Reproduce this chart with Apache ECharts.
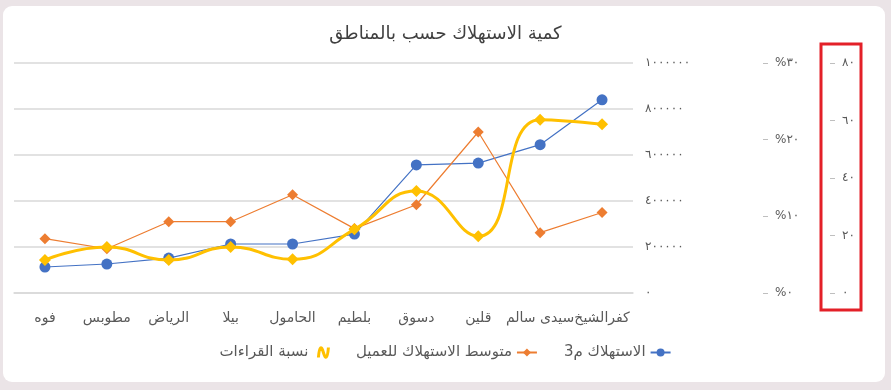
<!DOCTYPE html>
<html>
<head>
<meta charset="utf-8">
<script src="https://cdn.jsdelivr.net/npm/echarts@6/dist/echarts.min.js"></script>
<style>
html,body{margin:0;padding:0;background:#ebe4e7;width:891px;height:390px;overflow:hidden;}
#card{position:absolute;left:3px;top:6px;width:882px;height:376px;background:#fff;border-radius:9px;}
#chart{position:absolute;left:0;top:0;width:891px;height:390px;}
</style>
</head>
<body>
<div id="card"></div>
<div id="chart"></div>
<script>
// Categories, right to left in the picture
const categories = ['كفرالشيخ','سيدى سالم','قلين','دسوق','بلطيم','الحامول','بيلا','الرياض','مطوبس','فوه'];
const consumption = [840000, 645000, 565000, 557000, 256000, 213000, 213000, 152000, 126000, 113000];
const avgPerCustomer = [28, 21, 56, 30.7, 22.4, 34.2, 24.8, 24.8, 15.4, 18.9];
const readingsPct = [22.0, 22.6, 7.4, 13.3, 8.3, 4.4, 6.0, 4.3, 6.0, 4.3];
const seriesNames = ['الاستهلاك م3', 'متوسط الاستهلاك للعميل', 'نسبة القراءات'];
const titleText = 'كمية الاستهلاك حسب بالمناطق';
const consumptionTicks = [0, 200000, 400000, 600000, 800000, 1000000];
const pctTicks = [0, 10, 20, 30];
const avgTicks = [0, 20, 40, 60, 80];

const AR = '٠١٢٣٤٥٦٧٨٩';
const toAr = v => String(v).replace(/\d/g, d => AR[d]);
const FONT = 'DejaVu Sans';
const labelColor = '#595959';

const chart = echarts.init(document.getElementById('chart'), null, {renderer: 'canvas'});
chart.setOption({
  backgroundColor: 'transparent',
  textStyle: {fontFamily: FONT},
  title: {
    text: titleText, left: 'center', top: 20,
    textStyle: {fontFamily: FONT, fontSize: 18, fontWeight: 'normal', color: '#404040'}
  },
  legend: {
    left: 'center', top: 340, align: 'right', itemGap: 26, itemWidth: 20, itemHeight: 10,
    textStyle: {fontFamily: FONT, fontSize: 15, color: labelColor},
    data: [
      {name: seriesNames[2], icon: 'path://M0,10 C1,-2 3,-2 5,5 C7,12 9,12 10,0',
       itemStyle: {color: 'rgba(0,0,0,0)', borderColor: '#FFC000', borderWidth: 3}},
      {name: seriesNames[1]},
      {name: seriesNames[0]}
    ]
  },
  grid: {left: 14, right: 258, top: 63, bottom: 97, containLabel: false},
  xAxis: {
    type: 'category', data: categories, inverse: true, boundaryGap: true,
    axisLine: {show: true, lineStyle: {color: '#d9d9d9', width: 1.5}},
    axisTick: {show: false},
    axisLabel: {interval: 0, margin: 18, fontSize: 14, color: labelColor, fontFamily: FONT}
  },
  yAxis: [
    {
      type: 'value', position: 'right', min: consumptionTicks[0], max: consumptionTicks[consumptionTicks.length-1], interval: 200000,
      axisLine: {show: false}, axisTick: {show: false},
      splitLine: {lineStyle: {color: '#d9d9d9', width: 1.5}},
      axisLabel: {margin: 12, fontSize: 12, color: labelColor, fontFamily: FONT, formatter: v => toAr(v)}
    },
    {
      type: 'value', position: 'right', offset: 130, min: pctTicks[0], max: pctTicks[pctTicks.length-1], interval: 10,
      axisLine: {show: false}, axisTick: {show: true, length: 5, lineStyle: {color: '#bfbfbf'}},
      splitLine: {show: false},
      axisLabel: {margin: 12, fontSize: 12, color: labelColor, fontFamily: FONT, formatter: v => '%' + toAr(v)}
    },
    {
      type: 'value', position: 'right', offset: 197, min: avgTicks[0], max: avgTicks[avgTicks.length-1], interval: 20,
      axisLine: {show: false}, axisTick: {show: true, length: 5, lineStyle: {color: '#bfbfbf'}},
      splitLine: {show: false},
      axisLabel: {margin: 12, fontSize: 12, color: labelColor, fontFamily: FONT, formatter: v => toAr(v)}
    }
  ],
  graphic: [{
    type: 'rect', shape: {x: 821, y: 44, width: 40, height: 266},
    style: {fill: 'none', stroke: '#e32028', lineWidth: 3}, z: 100
  }],
  series: [
    {
      name: seriesNames[0], type: 'line', yAxisIndex: 0, data: consumption,
      symbol: 'circle', symbolSize: 11,
      lineStyle: {color: '#4472C4', width: 1.2}, itemStyle: {color: '#4472C4'}, z: 2
    },
    {
      name: seriesNames[1], type: 'line', yAxisIndex: 2, data: avgPerCustomer,
      symbol: 'diamond', symbolSize: 11,
      lineStyle: {color: '#ED7D31', width: 1.2}, itemStyle: {color: '#ED7D31'}, z: 3
    },
    {
      name: seriesNames[2], type: 'line', yAxisIndex: 1, data: readingsPct,
      symbol: 'diamond', symbolSize: 12, smooth: 0.5,
      lineStyle: {color: '#FFC000', width: 3}, itemStyle: {color: '#FFC000'}, z: 4
    }
  ],
  animation: false
});
</script>
</body>
</html>
